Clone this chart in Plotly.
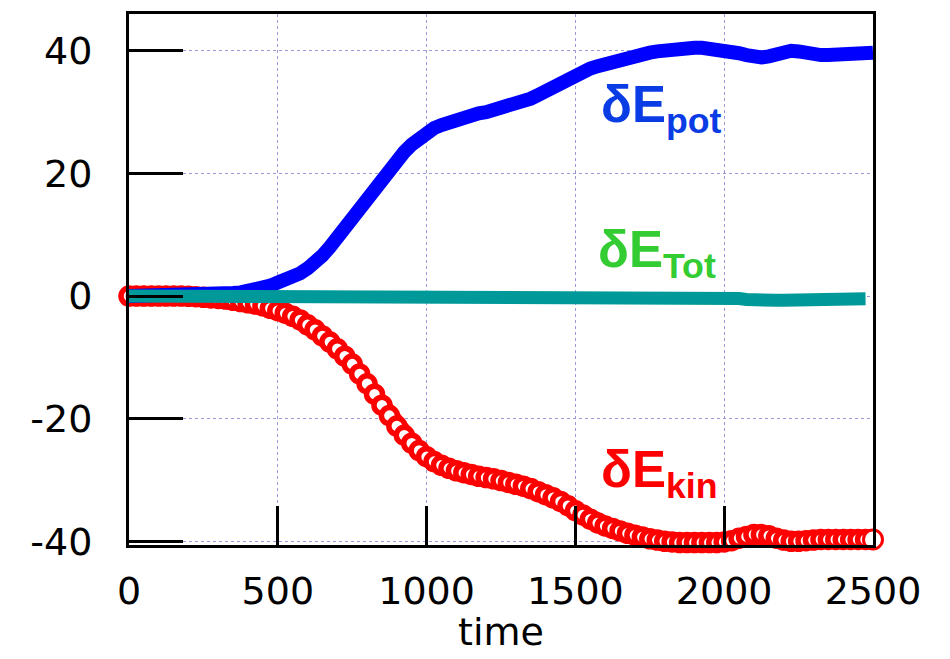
import plotly.graph_objects as go

time = [0, 25, 50, 75, 100, 125, 150, 175, 200, 225, 250, 275, 300, 325, 350, 375, 400, 425, 450, 475,
        500, 525, 550, 575, 600, 625, 650, 675, 700, 725, 750, 775, 800, 825, 850, 875, 900, 925, 950, 975,
        1000, 1025, 1050, 1075, 1100, 1125, 1150, 1175, 1200, 1225, 1250, 1275, 1300, 1325, 1350, 1375,
        1400, 1425, 1450, 1475, 1500, 1525, 1550, 1575, 1600, 1625, 1650, 1675, 1700, 1725, 1750, 1775,
        1800, 1825, 1850, 1875, 1900, 1925, 1950, 1975, 2000, 2025, 2050, 2075, 2100, 2125, 2150, 2175,
        2200, 2225, 2250, 2275, 2300, 2325, 2350, 2375, 2400, 2425, 2450, 2475, 2500]

e_pot = [0, 0, 0, 0, 0, 0, 0, 0, 0.05, 0.1, 0.15, 0.2, 0.3, 0.4, 0.5, 0.6, 0.8, 1.0, 1.3, 1.7,
         2.2, 2.6, 3.1, 3.7, 4.5, 5.4, 6.6, 8.0, 9.6, 11.2, 13.0, 14.6, 16.3, 17.9, 19.4, 20.9, 22.2, 23.5, 24.7, 25.8,
         26.7, 27.4, 27.9, 28.4, 28.9, 29.3, 29.6, 29.8, 30.0, 30.3, 30.6, 30.9, 31.3, 31.7, 32.2, 32.8,
         33.5, 34.2, 34.8, 35.4, 36.0, 36.6, 37.1, 37.5, 37.9, 38.2, 38.4, 38.7, 39.0, 39.4, 39.7, 39.9,
         40.1, 40.3, 40.4, 40.5, 40.5, 40.5, 40.4, 40.3, 40.2, 39.9, 39.6, 39.3, 39.0, 38.9, 39.1, 39.5,
         39.8, 40.0, 39.9, 39.6, 39.4, 39.3, 39.3, 39.4, 39.5, 39.5, 39.5, 39.6, 39.7]

e_kin = [0, 0, 0, 0, 0, 0, 0, 0, -0.05, -0.1, -0.2, -0.3, -0.4, -0.5, -0.7, -0.9, -1.1, -1.3, -1.6, -2.0,
         -2.4, -2.8, -3.3, -3.9, -4.7, -5.5, -6.5, -7.5, -8.6, -9.8, -11.1, -12.7, -14.3, -16.0, -17.8, -19.5,
         -21.2, -22.7, -24.0, -25.2, -26.2, -27.0, -27.6, -28.1, -28.5, -28.8, -29.1, -29.4, -29.6, -29.8,
         -30.1, -30.4, -30.7, -31.0, -31.4, -31.9, -32.4, -32.9, -33.5, -34.2, -35.0, -35.7, -36.4, -37.0,
         -37.5, -37.9, -38.3, -38.7, -39.0, -39.3, -39.6, -39.8, -40.0, -40.1, -40.2, -40.2, -40.2, -40.2,
         -40.2, -40.2, -40.1, -39.9, -39.5, -39.2, -38.9, -38.9, -39.1, -39.5, -39.8, -40.0, -40.0, -39.9,
         -39.8, -39.7, -39.7, -39.7, -39.7, -39.7, -39.7, -39.7, -39.7]

e_tot = [0] * 41 + [0.1] * 32 + [0.05, 0, 0, -0.05, -0.1, -0.1, -0.15, -0.2, -0.3, -0.4, -0.55, -0.7,
                                 -0.7, -0.7, -0.7, -0.7, -0.7, -0.7, -0.7, -0.7, -0.7, -0.7, -0.7, -0.7,
                                 -0.65, -0.55, -0.45]

x_ticks = [0, 500, 1000, 1500, 2000, 2500]
y_ticks = [-40, -20, 0, 20, 40]

n = len(time)
marker_sizes = [16] * (n - 1) + [19]
marker_lw = [5.5] * (n - 1) + [3]

fig = go.Figure()

fig.add_trace(go.Scatter(x=time, y=e_kin, mode="lines", line=dict(color="#ff0000", width=15),
                         showlegend=False, hoverinfo="skip"))
fig.add_trace(go.Scatter(x=time, y=e_kin, mode="markers",
                         marker=dict(symbol="circle", size=marker_sizes, color="white", opacity=1,
                                     line=dict(color="#ff0000", width=marker_lw)),
                         cliponaxis=False, showlegend=False))
fig.add_trace(go.Scatter(x=time, y=e_pot, mode="lines", line=dict(color="#0000ff", width=14),
                         showlegend=False))
fig.add_trace(go.Scatter(x=time, y=e_tot, mode="lines", line=dict(color="#009999", width=13),
                         showlegend=False))

label_font = "Liberation Sans, Arial, sans-serif"
fig.add_annotation(x=1580, y=30.6, xref="x", yref="y", xanchor="left", yanchor="middle",
                   text="<b>δE<sub>pot</sub></b>", showarrow=False,
                   font=dict(family=label_font, size=51, color="#0a3ce6"))
fig.add_annotation(x=1570, y=6.9, xref="x", yref="y", xanchor="left", yanchor="middle",
                   text="<b>δE<sub>Tot</sub></b>", showarrow=False,
                   font=dict(family=label_font, size=51, color="#33cc33"))
fig.add_annotation(x=1580, y=-29.0, xref="x", yref="y", xanchor="left", yanchor="middle",
                   text="<b>δE<sub>kin</sub></b>", showarrow=False,
                   font=dict(family=label_font, size=51, color="#ff0000"))

fig.add_annotation(x=0.5, y=-0.2097, xref="paper", yref="paper", xanchor="center", yanchor="bottom",
                   text="time", showarrow=False,
                   font=dict(family="DejaVu Sans", size=38, color="black"))

axis_common = dict(showline=True, linecolor="black", linewidth=3, mirror=True,
                   ticks="inside", tickcolor="black", tickwidth=3,
                   showgrid=True, gridcolor="#9a9ad8", gridwidth=1, griddash="dot",
                   zeroline=False,
                   tickfont=dict(family="DejaVu Sans", size=38, color="black"))

fig.update_xaxes(range=[0, 2500], tickvals=x_ticks, ticktext=[str(v) for v in x_ticks],
                 ticklen=39, ticklabelstandoff=10, **axis_common)
fig.update_yaxes(range=[-40.6, 46.0], tickvals=y_ticks, ticktext=[str(v) for v in y_ticks],
                 ticklen=54, ticklabelstandoff=26, **axis_common)

fig.update_layout(width=950, height=659, margin=dict(l=129, r=77, t=11, b=114),
                  plot_bgcolor="white", paper_bgcolor="white", showlegend=False)

fig.write_html("out.html")
